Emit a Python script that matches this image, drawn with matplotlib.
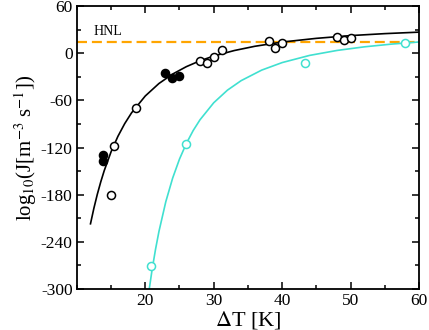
import matplotlib
matplotlib.use("Agg")
import matplotlib.pyplot as plt
from matplotlib.ticker import MultipleLocator

plt.rcParams['font.family'] = ['Liberation Serif', 'DejaVu Serif']
plt.rcParams['mathtext.fontset'] = 'stix'
plt.rcParams['axes.unicode_minus'] = False

# Data
black_open_x = [15.0, 15.5, 18.7, 28.0, 29.0, 30.1, 31.2, 38.0, 39.0, 40.0, 48.0, 49.0, 50.0]
black_open_y = [-181, -118, -70, -9.8, -12.8, -4.3, 3.8, 15.7, 5.9, 13.5, 20.8, 16.6, 19.5]
black_filled_x = [13.9, 13.9, 22.9, 23.9, 25.0]
black_filled_y = [-130, -137, -25.5, -31, -29]
cyan_x = [20.9, 25.9, 43.4, 58.0]
cyan_y = [-271, -116, -12.8, 13.5]

black_curve_x = [12, 12.5, 13, 13.5, 14, 15, 16, 17, 18, 20, 22, 24, 26, 28, 30, 33, 36, 40, 45, 50, 55, 60]
black_curve_y = [-217.0, -197.1, -179.4, -163.7, -149.6, -125.6, -105.9, -89.6, -75.9, -54.5, -38.6,
                 -26.6, -17.2, -9.7, -3.7, 3.3, 8.7, 14.1, 18.8, 22.3, 24.8, 26.7]
cyan_curve_x = [20.5, 21, 21.5, 22, 23, 24, 25, 26, 27, 28, 30, 32, 34, 37, 40, 44, 48, 52, 56, 60]
cyan_curve_y = [-304.9, -275.2, -249.4, -226.7, -188.9, -158.9, -134.7, -114.9, -98.4, -84.7, -63.1,
                -47.1, -35.0, -21.6, -12.0, -2.9, 3.4, 8.0, 11.5, 14.2]
hnl_y = 14
hnl_label = "HNL"

fig = plt.figure(figsize=(4.29, 3.30), dpi=100)
ax = fig.add_axes([0.179, 0.124, 0.798, 0.858])

cyan = '#40E0D0'
ax.axhline(hnl_y, color='#FFA500', lw=1.6, dashes=(4.5, 2.2), zorder=1)
ax.plot(black_curve_x, black_curve_y, color='black', lw=1.2, zorder=2)
ax.plot(cyan_curve_x, cyan_curve_y, color=cyan, lw=1.2, zorder=2)
ax.plot(black_open_x, black_open_y, 'o', ms=5.8, mfc='white', mec='black', mew=1.1, zorder=3)
ax.plot(black_filled_x, black_filled_y, 'o', ms=5.8, mfc='black', mec='black', mew=1.1, zorder=3)
ax.plot(cyan_x, cyan_y, 'o', ms=5.8, mfc='white', mec=cyan, mew=1.1, zorder=3)

ax.text(12.4, 28, hnl_label, fontsize=10, va='center', ha='left')

ax.set_xlim(10, 60)
ax.set_ylim(-300, 60)
ax.xaxis.set_major_locator(MultipleLocator(10))
ax.xaxis.set_minor_locator(MultipleLocator(5))
ax.yaxis.set_major_locator(MultipleLocator(60))
ax.yaxis.set_minor_locator(MultipleLocator(30))
ax.tick_params(which='both', direction='in', top=True, right=True, labelsize=12.5, width=1.1, pad=3)
ax.tick_params(which='major', length=5)
ax.tick_params(which='minor', length=3)
ax.set_xticks([20, 30, 40, 50, 60])
for s in ax.spines.values():
    s.set_linewidth(1.3)

ax.set_xlabel(r'$\Delta$T [K]', fontsize=16, labelpad=0)
ax.set_ylabel(r'log$_{10}$(J[m$^{-3}$ s$^{-1}$])', fontsize=15, labelpad=1)

fig.savefig('out.png', dpi=100)
